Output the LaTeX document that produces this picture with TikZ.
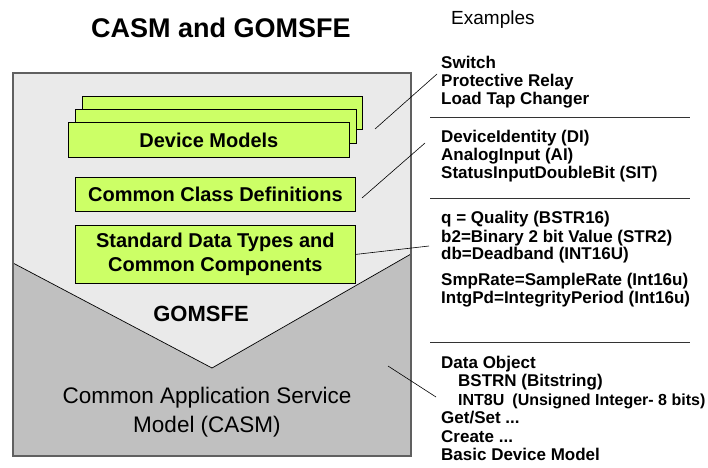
\documentclass[tikz,border=0pt]{standalone}
\usepackage{fontspec}
\setmainfont{Liberation Sans}
\definecolor{limefill}{HTML}{CCFF66}
\definecolor{lightg}{HTML}{EAEAEA}
\definecolor{darkg}{HTML}{C0C0C0}
\definecolor{framec}{HTML}{606060}
\begin{document}
\begin{tikzpicture}[x=1pt,y=-1pt,
 gbox/.style={draw=black, line width=0.8pt, fill=limefill, inner sep=0pt, anchor=north west,
   font=\bfseries\fontsize{20}{24}\selectfont, align=center},
 rtext/.style={anchor=base west, inner sep=0pt, font=\bfseries\fontsize{17}{17}\selectfont},
 leader/.style={draw=black, line width=0.6pt},
 sepline/.style={draw=black!80, line width=1pt}]
\useasboundingbox (0,0) rectangle (708,467);
% title
\node[anchor=base, inner sep=0pt, font=\bfseries\fontsize{27}{27}\selectfont] (title) at (221,37) {CASM and GOMSFE};
\node[anchor=base west, inner sep=0pt, font=\fontsize{19}{19}\selectfont] (ex) at (451,24) {Examples};
% main box
\fill[lightg] (13,73) rectangle (411,456);
\filldraw[fill=darkg, draw=black, line width=0.7pt] (13,263) -- (212,368) -- (411,254) -- (411,456) -- (13,456) -- cycle;
\draw[framec, line width=2pt] (13,73) rectangle (411,456);
% green boxes
\node[gbox, minimum width=280pt, minimum height=33pt] (dm3) at (82,96) {};
\node[gbox, minimum width=281pt, minimum height=34pt] (dm2) at (75,109) {};
\node[gbox, minimum width=281pt, minimum height=35pt] (dm) at (68,122) {Device Models};
\node[gbox, minimum width=280pt, minimum height=34pt] (ccd) at (75,177) {Common Class Definitions};
\node[gbox, minimum width=280pt, minimum height=58pt] (sdt) at (75,225) {Standard Data Types and\\Common Components};
\node[anchor=base, inner sep=0pt, font=\bfseries\fontsize{22}{22}\selectfont] (gom) at (201,321) {GOMSFE};
\node[align=center, inner sep=0pt, font=\fontsize{22.5}{29}\selectfont] (casm) at (207,412) {Common Application Service\\Model (CASM)};
% right texts
\node[rtext] (t1) at (441,68) {Switch};
\node[rtext] (t2) at (441,86) {Protective Relay};
\node[rtext] (t3) at (441,104) {Load Tap Changer};
\node[rtext] (t4) at (441,142) {DeviceIdentity (DI)};
\node[rtext] (t5) at (441,160) {AnalogInput (AI)};
\node[rtext] (t6) at (441,178) {StatusInputDoubleBit (SIT)};
\node[rtext] (t7) at (441,223) {q = Quality (BSTR16)};
\node[rtext] (t8) at (441,242) {b2=Binary 2 bit Value (STR2)};
\node[rtext] (t9) at (441,259) {db=Deadband (INT16U)};
\node[rtext] (t10) at (441,285) {SmpRate=SampleRate (Int16u)};
\node[rtext] (t11) at (441,303) {IntgPd=IntegrityPeriod (Int16u)};
\node[rtext] (t12) at (441,368) {Data Object};
\node[rtext] (t13) at (458,386.5) {BSTRN (Bitstring)};
\node[rtext, font=\bfseries\fontsize{16}{16}\selectfont] (t14) at (458,405) {INT8U\hspace{0.5em}(Unsigned Integer- 8 bits)};
\node[rtext] (t15) at (441,423.5) {Get/Set ...};
\node[rtext] (t16) at (441,442) {Create ...};
\node[rtext] (t17) at (441,460.5) {Basic Device Model};
% separators
\coordinate (s1a) at (430,117); \coordinate (s1b) at (690,117);
\coordinate (s2a) at (430,198); \coordinate (s2b) at (690,198);
\coordinate (s3a) at (430,342); \coordinate (s3b) at (690,342);
\draw[sepline] (s1a) -- (s1b);
\draw[sepline] (s2a) -- (s2b);
\draw[sepline] (s3a) -- (s3b);
% leaders
\coordinate (l1a) at (375,129); \coordinate (l1b) at (437,74);
\coordinate (l2a) at (362,198); \coordinate (l2b) at (425,143);
\coordinate (l3b) at (429,246);
\coordinate (l4a) at (388,366); \coordinate (l4b) at (436,397);
\draw[leader] (l1a) -- (l1b);
\draw[leader] (l2a) -- (l2b);
\draw[leader] (sdt.east) -- (l3b);
\draw[leader] (l4a) -- (l4b);
\end{tikzpicture}
\end{document}
